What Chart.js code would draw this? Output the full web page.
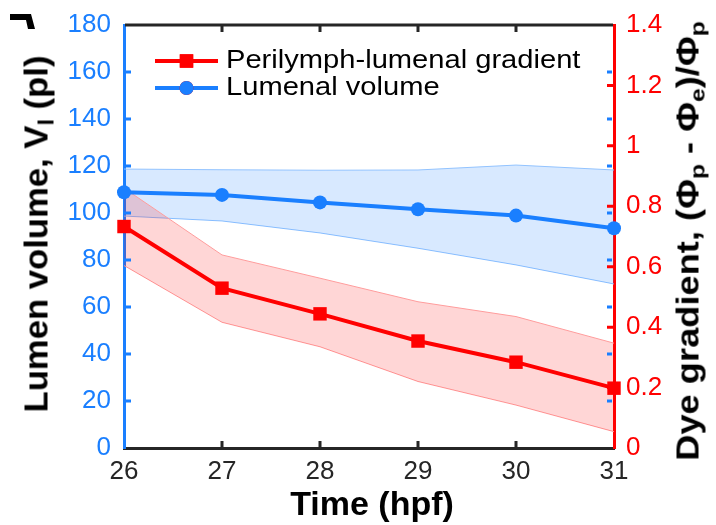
<!DOCTYPE html>
<html>
<head>
<meta charset="utf-8">
<script src="https://cdn.jsdelivr.net/npm/chart.js@4.4.1/dist/chart.umd.min.js"></script>
<style>
  html, body { margin: 0; padding: 0; background: #fff; overflow: hidden; }
  #wrap { position: relative; width: 716px; height: 525px; }
  .title {
    position: absolute; white-space: nowrap; font-family: "Liberation Sans", Arial, sans-serif;
    font-weight: bold; color: #000; line-height: 1;
  }
  .title sub { font-size: 0.68em; vertical-align: -0.28em; line-height: 0; }
  #ytitle { left: 36px; top: 234px; font-size: 33px; transform: translate(-50%, -50%) rotate(-90deg) scaleX(1.05); }
  #y1title { left: 688px; top: 241px; font-size: 31px; transform: translate(-50%, -50%) rotate(-90deg) scaleX(1.17); }
  #xtitle { left: 372px; top: 503px; font-size: 34px; transform: translate(-50%, -50%); }
</style>
</head>
<body>
<div id="wrap">
  <canvas id="chart" width="716" height="525"></canvas>
  <div class="title" id="ytitle">Lumen volume, V<sub>l</sub> (pl)</div>
  <div class="title" id="y1title">Dye gradient, (Φ<sub>p</sub> - Φ<sub>e</sub>)/Φ<sub>p</sub></div>
  <div class="title" id="xtitle">Time (hpf)</div>
</div>
<script>
"use strict";

// Time points (hpf)
const TIMES = [26, 27, 28, 29, 30, 31];

// Lumenal volume (pl), left axis: mean and shaded band edges
const VOL_MEAN = [108.8, 107.7, 104.5, 101.6, 98.9, 93.5];
const VOL_UPPER = [118.7, 118.4, 118.2, 118.3, 120.4, 118.3];
const VOL_LOWER = [98.7, 96.6, 91.5, 85.0, 77.9, 69.8];

// Perilymph-lumenal dye gradient, right axis
const GRAD_MEAN = [0.733, 0.529, 0.444, 0.354, 0.284, 0.198];
const GRAD_UPPER = [0.86, 0.639, 0.562, 0.484, 0.435, 0.347];
const GRAD_LOWER = [0.604, 0.416, 0.335, 0.22, 0.142, 0.054];

const LEGEND_LABELS = ["Perilymph-lumenal gradient", "Lumenal volume"];

const BLUE = "#1a7fff";
const RED = "#ff0000";
const DARK = "#262626";
const FONT = "'Liberation Sans', Arial, sans-serif";

const pts = (ys) => TIMES.map((t, i) => ({ x: t, y: ys[i] }));

const band = (ys, axis, edge, fillCol, fill, order) => ({
  data: pts(ys), yAxisID: axis, borderColor: edge, borderWidth: 1,
  backgroundColor: fillCol, fill, pointRadius: 0, tension: 0, order, clip: false,
});

const datasets = [
  {
    label: LEGEND_LABELS[0], data: pts(GRAD_MEAN), yAxisID: "y1",
    borderColor: RED, backgroundColor: RED, borderWidth: 4,
    pointStyle: "rect", pointRadius: 9.5, pointBorderWidth: 0, fill: false, order: 1, clip: false,
  },
  {
    label: LEGEND_LABELS[1], data: pts(VOL_MEAN), yAxisID: "y",
    borderColor: BLUE, backgroundColor: BLUE, borderWidth: 4,
    pointStyle: "circle", pointRadius: 7, pointBorderWidth: 0, fill: false, order: 2, clip: false,
  },
  band(GRAD_UPPER, "y1", "#ff9c9c", "rgba(255,0,0,0.16)", "+1", 3),
  band(GRAD_LOWER, "y1", "#ff9c9c", "transparent", false, 4),
  band(VOL_UPPER, "y", "#92c3ff", "rgba(26,127,255,0.17)", "+1", 5),
  band(VOL_LOWER, "y", "#92c3ff", "transparent", false, 6),
];

// inward ticks on all four sides + top border
const boxTicks = {
  id: "boxTicks",
  afterDraw(chart) {
    const { ctx, chartArea: a, scales } = chart;
    const len = 7;
    ctx.save();
    ctx.lineWidth = 3;
    ctx.strokeStyle = DARK;
    ctx.beginPath();
    ctx.moveTo(a.left + 1, a.top); ctx.lineTo(a.right - 1, a.top);
    ctx.stroke();
    ctx.beginPath();
    scales.x.ticks.forEach((t) => {
      const px = scales.x.getPixelForValue(t.value);
      if (px <= a.left + 2 || px >= a.right - 2) return;
      ctx.moveTo(px, a.bottom); ctx.lineTo(px, a.bottom - len);
      ctx.moveTo(px, a.top); ctx.lineTo(px, a.top + len);
    });
    ctx.stroke();
    ctx.strokeStyle = BLUE;
    ctx.beginPath();
    scales.y.ticks.forEach((t) => {
      const py = scales.y.getPixelForValue(t.value);
      if (py >= a.bottom - 2 || py <= a.top + 2) return;
      ctx.moveTo(a.left, py); ctx.lineTo(a.left + len, py);
      ctx.moveTo(a.right - 2, py); ctx.lineTo(a.right - len, py);
    });
    ctx.stroke();
    ctx.strokeStyle = RED;
    ctx.beginPath();
    scales.y1.ticks.forEach((t) => {
      const py = scales.y1.getPixelForValue(t.value);
      if (py >= a.bottom - 2 || py <= a.top + 2) return;
      ctx.moveTo(a.right, py); ctx.lineTo(a.right - len, py);
    });
    ctx.stroke();
    ctx.restore();
  },
};

// legend drawn as line + marker, like the original figure
const lineLegend = {
  id: "lineLegend",
  afterDraw(chart) {
    const ctx = chart.ctx;
    const x0 = 155, x1 = 218, tx = 226;
    const rows = [61, 88];
    ctx.save();
    rows.forEach((y, i) => {
      const ds = chart.data.datasets[i];
      ctx.strokeStyle = ds.borderColor;
      ctx.lineWidth = ds.borderWidth;
      ctx.beginPath(); ctx.moveTo(x0, y); ctx.lineTo(x1, y); ctx.stroke();
      Chart.helpers.drawPoint(ctx, {
        pointStyle: ds.pointStyle, radius: ds.pointRadius, borderWidth: 0, rotation: 0,
      }, (x0 + x1) / 2, y);
      ctx.fillStyle = ds.borderColor;
      ctx.fill();
      ctx.save();
      ctx.translate(tx, y);
      ctx.scale(1.12, 1);
      ctx.fillStyle = "#000";
      ctx.font = "26px " + FONT;
      ctx.textBaseline = "middle";
      ctx.fillText(ds.label, 0, 0);
      ctx.restore();
    });
    // clipped panel letter fragment at top-left
    ctx.fillStyle = "#000";
    ctx.beginPath();
    ctx.moveTo(10, 14); ctx.lineTo(31, 14); ctx.lineTo(35, 29);
    ctx.lineTo(28, 29); ctx.lineTo(26, 20); ctx.lineTo(10, 20);
    ctx.closePath(); ctx.fill();
    ctx.restore();
  },
};

const fmt = (v) => String(+Number(v).toFixed(1));
const fitY = (w) => (s) => { s.width = w; s.paddingTop = 0; s.paddingBottom = 0; };

new Chart(document.getElementById("chart"), {
  type: "line",
  data: { datasets },
  options: {
    responsive: false,
    animation: false,
    layout: { padding: { top: 25 } },
    plugins: { legend: { display: false }, tooltip: { enabled: false } },
    scales: {
      x: {
        type: "linear", min: 26, max: 31,
        afterFit: (s) => { s.height = 77; },
        grid: { display: false, drawTicks: false },
        border: { color: DARK, width: 3 },
        ticks: { stepSize: 1, padding: 8, color: DARK, font: { family: FONT, size: 26 } },
      },
      y: {
        position: "left", min: 0, max: 180,
        afterFit: fitY(124),
        grid: { display: false, drawTicks: false },
        border: { color: BLUE, width: 3 },
        ticks: { stepSize: 20, padding: 13, color: BLUE, font: { family: FONT, size: 26 }, callback: fmt },
      },
      y1: {
        position: "right", min: 0, max: 1.4,
        afterFit: fitY(102),
        grid: { display: false, drawTicks: false },
        border: { color: RED, width: 3 },
        ticks: { stepSize: 0.2, padding: 12, color: RED, font: { family: FONT, size: 26 }, callback: fmt },
      },
    },
  },
  plugins: [boxTicks, lineLegend],
});
</script>
</body>
</html>
